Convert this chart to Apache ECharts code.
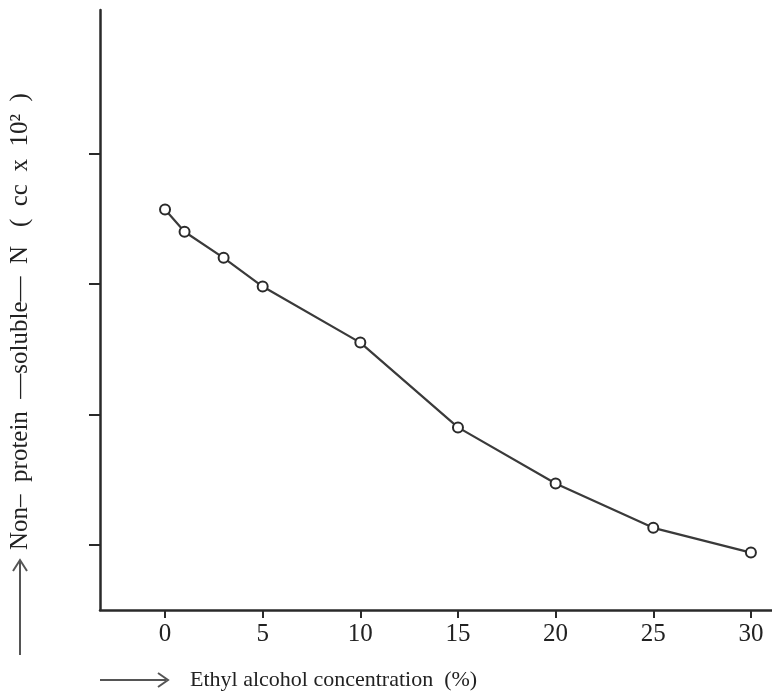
<!DOCTYPE html>
<html>
<head>
<meta charset="utf-8">
<script src="https://cdn.jsdelivr.net/npm/echarts@6/dist/echarts.min.js"></script>
<style>
  html, body { margin: 0; padding: 0; background: #fff; }
  #chart { width: 772px; height: 697px; }
</style>
</head>
<body>
<div id="chart"></div>
<script>
// Ethyl alcohol concentration (%) and non-protein soluble N (cc x 10^2)
const concentration = [0, 1, 3, 5, 10, 15, 20, 25, 30];
const solubleN = [3.57, 3.40, 3.20, 2.98, 2.55, 1.90, 1.47, 1.13, 0.94];
const xTicks = [0, 5, 10, 15, 20, 25, 30];
const yTicks = [1, 2, 3, 4];

const xTitle = 'Ethyl alcohol concentration  (%)';
const yTitle = 'Non–  protein  —soluble—  N   (  cc  x  10²  )';

const ink = '#2a2a2a';
const serif = '"Liberation Serif", "DejaVu Serif", serif';

const chart = echarts.init(document.getElementById('chart'), null, { renderer: 'canvas' });

chart.setOption({
  backgroundColor: '#ffffff',
  animation: false,
  grid: { left: 100, right: 0, top: 10, bottom: 87 },
  xAxis: {
    type: 'value',
    min: -3.33,
    max: 31.08,
    splitLine: { show: false },
    axisLine: { show: true, onZero: false, lineStyle: { color: ink, width: 2.5 } },
    axisTick: { show: true, customValues: xTicks, length: 8, lineStyle: { color: ink, width: 2 } },
    axisLabel: {
      customValues: xTicks,
      color: '#222',
      fontFamily: serif,
      fontSize: 25,
      margin: 12
    }
  },
  yAxis: {
    type: 'value',
    min: 0.5,
    max: 5.1,
    splitLine: { show: false },
    axisLine: { show: true, onZero: false, lineStyle: { color: ink, width: 2.5 } },
    axisTick: { show: true, customValues: yTicks, length: 11, lineStyle: { color: ink, width: 2 } },
    axisLabel: { show: false, customValues: yTicks }
  },
  series: [{
    type: 'line',
    data: concentration.map((c, i) => [c, solubleN[i]]),
    symbol: 'circle',
    symbolSize: 10,
    showSymbol: true,
    lineStyle: { color: '#3a3a3a', width: 2.2 },
    itemStyle: { color: '#ffffff', borderColor: '#2a2a2a', borderWidth: 2 }
  }],
  graphic: [
    // x-axis title arrow
    { type: 'line', shape: { x1: 100, y1: 680, x2: 166, y2: 680 }, style: { stroke: '#555', lineWidth: 2 } },
    { type: 'polyline', shape: { points: [[158, 673], [168, 680], [158, 687]] }, style: { stroke: '#555', lineWidth: 2, fill: null } },
    {
      type: 'text',
      x: 190, y: 680,
      style: { text: xTitle, font: '22px ' + serif, fill: '#222', textAlign: 'left', textVerticalAlign: 'middle' }
    },
    // y-axis title arrow
    { type: 'line', shape: { x1: 20, y1: 655, x2: 20, y2: 562 }, style: { stroke: '#555', lineWidth: 2 } },
    { type: 'polyline', shape: { points: [[13, 571], [20, 560], [27, 571]] }, style: { stroke: '#555', lineWidth: 2, fill: null } },
    {
      type: 'text',
      x: 20, y: 550,
      rotation: Math.PI / 2,
      style: { text: yTitle, font: '25px ' + serif, fill: '#222', textAlign: 'left', textVerticalAlign: 'middle' }
    }
  ]
});
</script>
</body>
</html>
